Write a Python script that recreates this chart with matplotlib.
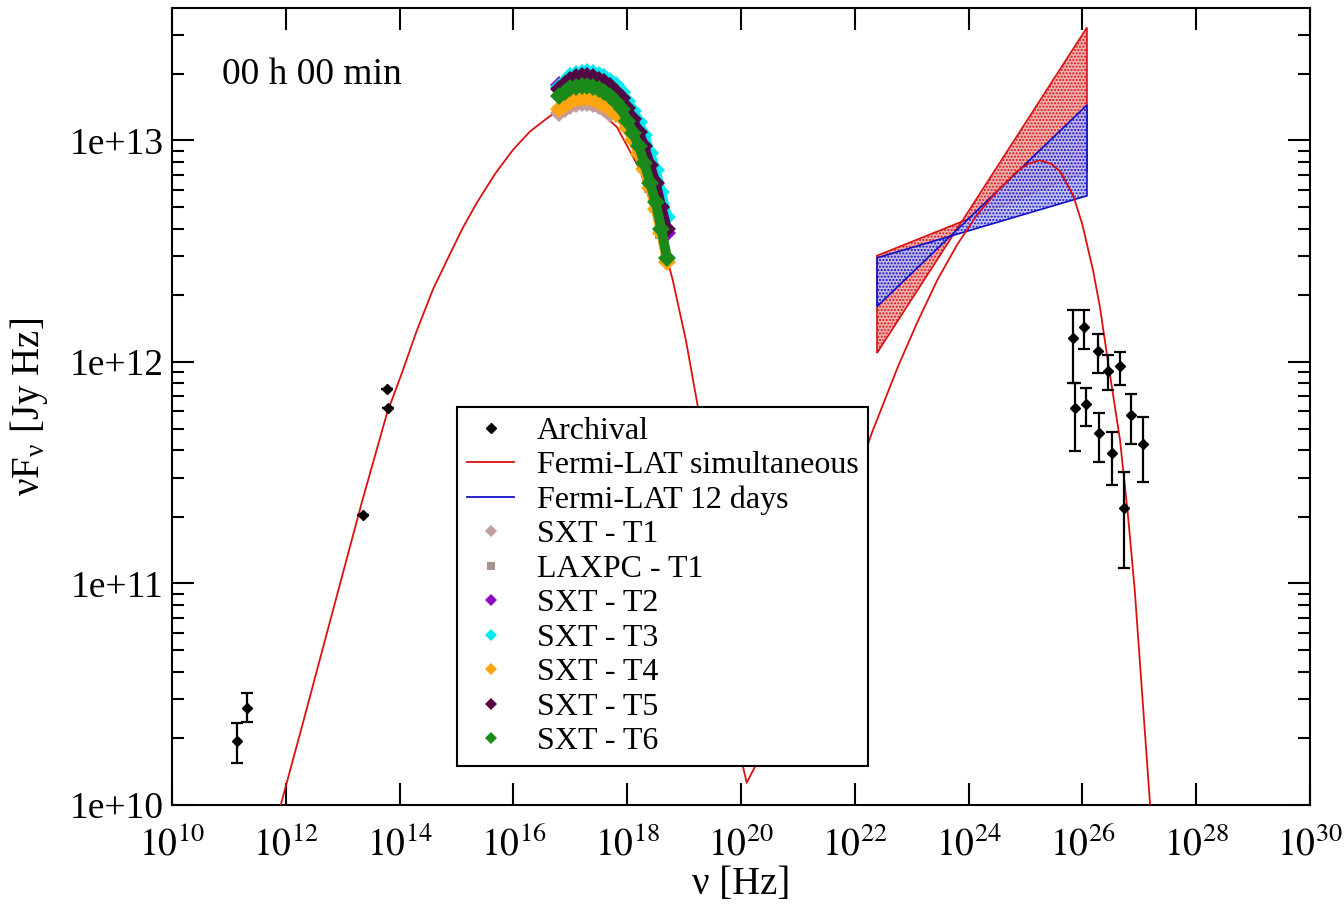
import matplotlib
matplotlib.use("Agg")
import matplotlib.pyplot as plt
import numpy as np
from matplotlib.lines import Line2D
from matplotlib.ticker import FixedLocator, FuncFormatter, LogLocator, NullFormatter, NullLocator

plt.rcParams["font.family"] = ["Liberation Serif", "DejaVu Serif"]
plt.rcParams["mathtext.fontset"] = "stix"

# all values are log10(nu / Hz) and log10(nuFnu / Jy Hz)

# archival points (value, lower and upper end of error bar)
arch_lognu = [11.14, 11.32, 13.36, 13.78, 13.80, 25.84, 25.87, 26.03, 26.06, 26.27, 26.29,
              26.45, 26.52, 26.66, 26.73, 26.85, 27.07]
arch_logf = [10.29, 10.44, 11.31, 11.88, 11.79, 12.11, 11.79, 12.16, 11.81, 12.05, 11.68,
             11.96, 11.59, 11.98, 11.34, 11.76, 11.63]
arch_logf_lo = [10.19, 10.375, 11.31, 11.88, 11.79, 11.905, 11.60, 12.06, 11.71, 11.95, 11.55,
                11.874, 11.445, 11.896, 11.07, 11.63, 11.458]
arch_logf_hi = [10.37, 10.505, 11.31, 11.88, 11.79, 12.235, 11.905, 12.235, 11.883, 12.126, 11.77,
                12.032, 11.684, 12.045, 11.503, 11.856, 11.752]

# SED model (synchrotron + inverse Compton)
model_lognu = [11.79, 11.90, 12.30, 12.83, 13.34, 13.78, 14.04, 14.30, 14.59, 14.89, 15.12,
               15.36, 15.68, 16.00, 16.29, 16.59, 16.76, 17.12, 17.52, 17.82, 18.22, 18.52,
               18.80, 19.03, 19.24, 19.43, 19.63, 19.83, 20.02, 20.10, 20.28, 20.69, 21.21,
               21.74, 22.30, 22.76, 23.10, 23.45, 23.80, 24.15, 24.50, 24.85, 25.05, 25.25,
               25.45, 25.61, 25.84, 26.00, 26.19, 26.31, 26.45, 26.66, 26.80, 26.92, 27.19, 27.24]
model_logf = [9.89, 9.99, 10.37, 10.88, 11.37, 11.77, 11.95, 12.14, 12.33, 12.49, 12.61,
              12.72, 12.85, 12.96, 13.04, 13.10, 13.13, 13.155, 13.13, 13.06, 12.87, 12.64,
              12.37, 12.10, 11.80, 11.49, 11.10, 10.66, 10.19, 10.10, 10.19, 10.50, 10.88,
              11.26, 11.68, 11.98, 12.18, 12.37, 12.53, 12.665, 12.77, 12.86, 12.895, 12.91,
              12.895, 12.86, 12.75, 12.62, 12.41, 12.245, 12.00, 11.65, 11.31, 10.97, 10.00, 9.86]

# Fermi-LAT butterflies: band edges at the two ends of the energy range
lat_lognu = [22.39, 26.08]
sim_hard = [12.04, 13.51]
sim_soft = [12.48, 12.86]
d12_hard = [12.25, 13.16]
d12_soft = [12.47, 12.75]

# AstroSat spectra
sxt_lognu = [16.8, 16.9, 17.0, 17.1, 17.2, 17.3, 17.4, 17.5, 17.6, 17.7,
             17.8, 17.9, 18.0, 18.1, 18.2, 18.3, 18.4, 18.5, 18.6, 18.7]
sxt_t1 = [13.125, 13.14, 13.155, 13.165, 13.17, 13.17, 13.165, 13.155, 13.14, 13.12]
laxpc_lognu = [17.9, 18.0, 18.1, 18.2, 18.3, 18.4, 18.5, 18.6]
laxpc_t1 = [13.12, 13.07, 13.015, 12.955, 12.88, 12.79, 12.70, 12.58]
sxt_t2 = [13.25, 13.26, 13.27, 13.275, 13.28, 13.28, 13.275, 13.265, 13.25, 13.23,
          13.205, 13.17, 13.125, 13.075, 13.015, 12.95, 12.87, 12.78, 12.68, 12.58]
sxt_t3 = [13.24, 13.265, 13.29, 13.30, 13.305, 13.31, 13.305, 13.295, 13.285, 13.27,
          13.25, 13.22, 13.18, 13.135, 13.085, 13.025, 12.945, 12.865, 12.765, 12.655]
sxt_t4 = [13.14, 13.16, 13.175, 13.185, 13.19, 13.19, 13.185, 13.175, 13.16, 13.14,
          13.12, 13.10, 13.055, 13.0, 12.94, 12.87, 12.785, 12.69, 12.58, 12.45]
sxt_t5 = [13.23, 13.255, 13.275, 13.285, 13.29, 13.29, 13.285, 13.275, 13.265, 13.245,
          13.22, 13.19, 13.145, 13.095, 13.04, 12.975, 12.89, 12.81, 12.70, 12.60]
sxt_t6 = [13.20, 13.22, 13.235, 13.24, 13.245, 13.245, 13.24, 13.23, 13.22, 13.20,
          13.175, 13.14, 13.09, 13.035, 12.975, 12.90, 12.81, 12.72, 12.60, 12.47]

RED = "#dd1010"
BLUE = "#1010c8"
sxt_series = [
    ("SXT - T1", sxt_lognu[:len(sxt_t1)], sxt_t1, "D", "#c09c9c"),
    ("LAXPC - T1", laxpc_lognu, laxpc_t1, "s", "#a89290"),
    ("SXT - T2", sxt_lognu, sxt_t2, "D", "#8a08c8"),
    ("SXT - T3", sxt_lognu, sxt_t3, "D", "#00e8f0"),
    ("SXT - T4", sxt_lognu, sxt_t4, "D", "#ffa510"),
    ("SXT - T5", sxt_lognu, sxt_t5, "D", "#520844"),
    ("SXT - T6", sxt_lognu, sxt_t6, "D", "#1a8a1a"),
]


def p10(v):
    return 10.0 ** np.asarray(v)


fig = plt.figure(figsize=(13.44, 9.06), dpi=100)
ax = fig.add_axes([0.128, 0.1115, 0.8467, 0.8797])
ax.set_xscale("log")
ax.set_yscale("log")

# butterflies
for k, (hard, soft), face, edge in [
        (0, (sim_hard, sim_soft), (0.93, 0.70, 0.70, 1.0), RED),
        (1, (d12_hard, d12_soft), (0.74, 0.74, 0.95, 0.85), BLUE)]:
    xs = p10([lat_lognu[0], lat_lognu[1], lat_lognu[1], lat_lognu[0]])
    ys = p10([hard[0], hard[1], soft[1], soft[0]])
    ax.fill(xs, ys, facecolor=face, edgecolor=edge, hatch=".....", lw=1.2, zorder=1 + k)

ax.plot(p10(model_lognu), p10(model_logf), color=RED, lw=1.3, zorder=3)

for label, xs, ys, mk, col in sxt_series:
    ax.plot(p10(xs), p10(ys), linestyle="-", lw=7, solid_capstyle="round", solid_joinstyle="round",
            marker=mk, ms=9, mew=0, color=col, zorder=4)

arch_f = p10(arch_logf)
yerr = [arch_f - p10(arch_logf_lo), p10(arch_logf_hi) - arch_f]
ax.errorbar(p10(arch_lognu), arch_f, yerr=yerr, fmt="D", ms=5, color="black", ecolor="black",
            elinewidth=1.6, capsize=4, capthick=1.6, zorder=5)

ax.set_xlim(1e10, 1e30)
ax.set_ylim(1e10, 10 ** 13.598)

ax.xaxis.set_major_locator(FixedLocator(p10(np.arange(10, 31, 2))))
ax.xaxis.set_minor_locator(NullLocator())
ax.xaxis.set_major_formatter(FuncFormatter(lambda v, p: r"$10^{%d}$" % round(np.log10(v))))
ax.yaxis.set_major_locator(LogLocator(base=10))
ax.yaxis.set_minor_locator(LogLocator(base=10, subs=np.arange(2, 10)))
ax.yaxis.set_minor_formatter(NullFormatter())
ax.yaxis.set_major_formatter(FuncFormatter(lambda v, p: "1e+%d" % round(np.log10(v))))
ax.tick_params(which="both", direction="in", top=True, right=True, width=1.5, labelsize=27)
ax.tick_params(which="major", length=16)
ax.tick_params(which="minor", length=8.5)
ax.tick_params(axis="x", pad=16)
ax.tick_params(axis="y", pad=6)
for sp in ax.spines.values():
    sp.set_linewidth(1.5)

ax.set_xlabel("ν [Hz]", fontsize=28, labelpad=2)
ax.set_ylabel(r"νF$_\mathregular{ν}$ [Jy Hz]", fontsize=28, labelpad=14)

ax.text(0.044, 0.916, "00 h 00 min", transform=ax.transAxes, fontsize=27, va="center")

handles = [
    Line2D([], [], linestyle="none", marker="D", ms=5, color="black"),
    Line2D([], [], color=RED, lw=1.3),
    Line2D([], [], color=BLUE, lw=1.3),
]
labels = ["Archival", "Fermi-LAT simultaneous", "Fermi-LAT 12 days"]
for label, xs, ys, mk, col in sxt_series:
    handles.append(Line2D([], [], linestyle="none", marker=mk, ms=6, mew=0, color=col))
    labels.append(label)

leg = ax.legend(handles, labels, loc="upper left", bbox_to_anchor=(0.2504, 0.4994),
                borderaxespad=0, fontsize=23, frameon=True, fancybox=False, framealpha=1,
                edgecolor="black", handlelength=1.5, handletextpad=0.7, labelspacing=0.16,
                borderpad=0.3)
leg.get_frame().set_linewidth(1.5)
leg.set_zorder(10)

fig.savefig("out.png", dpi=100)
